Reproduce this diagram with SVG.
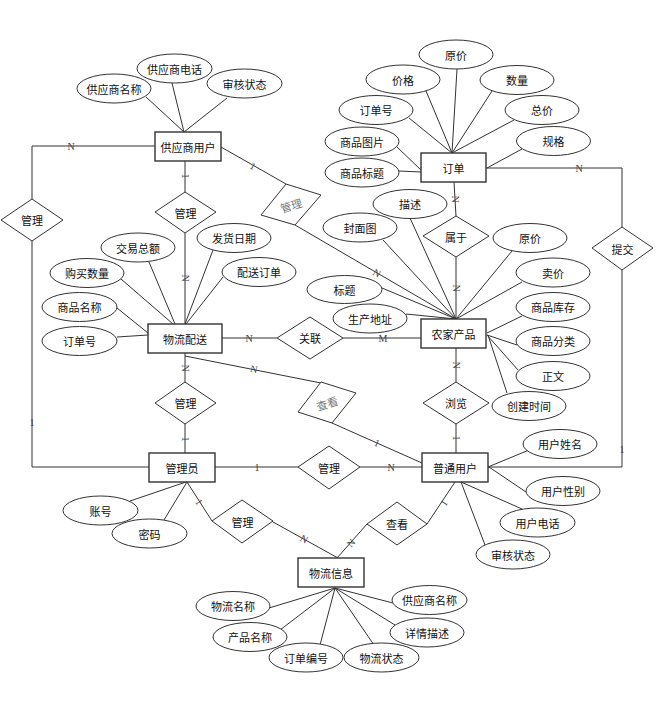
<svg xmlns="http://www.w3.org/2000/svg" width="666" height="701" viewBox="0 0 666 701">
<style>
  .ent rect { fill: #fff; stroke: #333; stroke-width: 1.4; }
  .att ellipse { fill: #fff; stroke: #333; stroke-width: 1; }
  .rel polygon { fill: #fff; stroke: #333; stroke-width: 1; }
  text { font-family: "Noto Sans CJK SC", "Noto Sans", sans-serif; font-size: 11px; fill: #111; text-anchor: middle; dominant-baseline: central; }
  .rot text { fill: #777; }
  #connectors line, #connectors polyline { stroke: #333; stroke-width: 1; fill: none; }
  .card { font-family: "Liberation Serif", serif; font-size: 10px; fill: #444; }
</style>
<rect width="666" height="701" fill="#fff"/>
<g id="connectors">
  <line x1="146" y1="97" x2="184" y2="132"/>
  <line x1="172" y1="83" x2="184" y2="132"/>
  <line x1="227" y1="98" x2="184" y2="132"/>
  <line x1="457" y1="69" x2="452" y2="153"/>
  <line x1="426" y1="91" x2="452" y2="153"/>
  <line x1="492" y1="91" x2="452" y2="153"/>
  <line x1="409" y1="118" x2="452" y2="153"/>
  <line x1="514" y1="120" x2="452" y2="153"/>
  <line x1="397" y1="147" x2="421" y2="170"/>
  <line x1="399" y1="171" x2="421" y2="172"/>
  <line x1="522" y1="149" x2="487" y2="168"/>
  <line x1="149" y1="262" x2="175" y2="324"/>
  <line x1="213" y1="250" x2="185" y2="324"/>
  <line x1="121" y1="279" x2="173" y2="324"/>
  <line x1="223" y1="277" x2="186" y2="324"/>
  <line x1="117" y1="308" x2="148" y2="333"/>
  <line x1="117" y1="337" x2="148" y2="335"/>
  <line x1="410" y1="218" x2="456" y2="319"/>
  <line x1="383" y1="240" x2="456" y2="319"/>
  <line x1="512" y1="251" x2="456" y2="319"/>
  <line x1="522" y1="282" x2="456" y2="319"/>
  <line x1="382" y1="288" x2="456" y2="319"/>
  <line x1="406" y1="314" x2="456" y2="319"/>
  <line x1="522" y1="316" x2="487" y2="333"/>
  <line x1="517" y1="345" x2="487" y2="335"/>
  <line x1="518" y1="370" x2="487" y2="335"/>
  <line x1="507" y1="393" x2="488" y2="335"/>
  <line x1="529" y1="450" x2="488" y2="467"/>
  <line x1="526" y1="492" x2="489" y2="467"/>
  <line x1="522" y1="509" x2="461" y2="482"/>
  <line x1="485" y1="545" x2="461" y2="482"/>
  <line x1="130" y1="501" x2="186" y2="482"/>
  <line x1="164" y1="520" x2="187" y2="482"/>
  <line x1="269" y1="608" x2="335" y2="588"/>
  <line x1="280" y1="630" x2="335" y2="588"/>
  <line x1="320" y1="645" x2="335" y2="588"/>
  <line x1="374" y1="645" x2="335" y2="588"/>
  <line x1="393" y1="603" x2="335" y2="588"/>
  <line x1="395" y1="625" x2="335" y2="588"/>
  <polyline points="155,146 32,146 32,199"/>
  <polyline points="32,241 32,467 149,467"/>
  <line x1="185" y1="161" x2="185" y2="192"/>
  <line x1="185" y1="233" x2="185" y2="324"/>
  <line x1="222" y1="338" x2="277" y2="338"/>
  <line x1="343" y1="338" x2="421" y2="338"/>
  <line x1="185" y1="353" x2="185" y2="382"/>
  <line x1="185" y1="424" x2="185" y2="453"/>
  <line x1="185" y1="356" x2="321" y2="383"/>
  <line x1="332" y1="423" x2="422" y2="463"/>
  <line x1="221" y1="147" x2="286" y2="184"/>
  <line x1="295" y1="225" x2="456" y2="319"/>
  <line x1="454" y1="182" x2="456" y2="216"/>
  <line x1="456" y1="257" x2="456" y2="319"/>
  <polyline points="486,168 622,168 622,227"/>
  <polyline points="622,270 622,467 488,467"/>
  <line x1="456" y1="348" x2="456" y2="382"/>
  <line x1="456" y1="424" x2="456" y2="453"/>
  <line x1="215" y1="467" x2="298" y2="467"/>
  <line x1="360" y1="467" x2="422" y2="467"/>
  <line x1="187" y1="482" x2="212" y2="521"/>
  <line x1="273" y1="522" x2="338" y2="558"/>
  <line x1="455" y1="482" x2="427" y2="524"/>
  <line x1="367" y1="524" x2="337" y2="558"/>
  <text class="card" x="71" y="146">N</text>
  <text class="card" x="32" y="422">1</text>
  <text class="card" transform="translate(185,176) rotate(90)">1</text>
  <text class="card" transform="translate(185,278) rotate(90)">N</text>
  <text class="card" x="249" y="338">N</text>
  <text class="card" x="383" y="338">M</text>
  <text class="card" transform="translate(185,368) rotate(90)">N</text>
  <text class="card" transform="translate(185,439) rotate(90)">1</text>
  <text class="card" transform="translate(254,369) rotate(11)">N</text>
  <text class="card" transform="translate(377,443) rotate(24)">1</text>
  <text class="card" transform="translate(253,166) rotate(30)">1</text>
  <text class="card" transform="translate(377,273) rotate(30)">N</text>
  <text class="card" transform="translate(455,199) rotate(90)">N</text>
  <text class="card" transform="translate(456,288) rotate(90)">N</text>
  <text class="card" x="579" y="168">N</text>
  <text class="card" x="622" y="449">1</text>
  <text class="card" transform="translate(456,365) rotate(90)">N</text>
  <text class="card" transform="translate(456,438) rotate(90)">1</text>
  <text class="card" x="257" y="467">1</text>
  <text class="card" x="391" y="467">N</text>
  <text class="card" transform="translate(199,502) rotate(57)">1</text>
  <text class="card" transform="translate(304,539) rotate(29)">N</text>
  <text class="card" transform="translate(444,503) rotate(-56)">1</text>
  <text class="card" transform="translate(351,543) rotate(-49)">N</text>
</g>
<g id="e-supplier" class="ent"><rect x="155" y="132" width="66" height="29"/><text x="188" y="146.5">供应商用户</text></g>
<g id="e-order" class="ent"><rect x="421" y="153" width="65" height="29"/><text x="453.5" y="167.5">订单</text></g>
<g id="e-delivery" class="ent"><rect x="148" y="324" width="74" height="29"/><text x="185" y="338.5">物流配送</text></g>
<g id="e-product" class="ent"><rect x="421" y="319" width="65" height="29"/><text x="453.5" y="333.5">农家产品</text></g>
<g id="e-admin" class="ent"><rect x="149" y="453" width="66" height="29"/><text x="182" y="467.5">管理员</text></g>
<g id="e-user" class="ent"><rect x="422" y="453" width="66" height="29"/><text x="455" y="467.5">普通用户</text></g>
<g id="e-logistics" class="ent"><rect x="298" y="558" width="66" height="29"/><text x="331" y="572.5">物流信息</text></g>

<g id="r-manage1" class="rel"><polygon points="1,220 32,199 63,220 32,241"/><text x="32" y="220">管理</text></g>
<g id="r-manage2" class="rel"><polygon points="155,212 185,192 216,212 185,233"/><text x="185.5" y="212.5">管理</text></g>
<g id="r-manage3" class="rel rot"><polygon points="286,184 321,195 295,225 261,215"/><text transform="translate(291,205) rotate(-17)">管理</text></g>
<g id="r-belong" class="rel"><polygon points="423,236 456,216 489,236 456,257"/><text x="456" y="236.5">属于</text></g>
<g id="r-submit" class="rel"><polygon points="592,248 622,227 653,248 622,270"/><text x="622.5" y="248.5">提交</text></g>
<g id="r-link" class="rel"><polygon points="277,338 310,317 343,338 310,359"/><text x="310" y="338">关联</text></g>
<g id="r-browse" class="rel"><polygon points="423,403 456,382 489,403 456,424"/><text x="456" y="403">浏览</text></g>
<g id="r-view1" class="rel rot"><polygon points="321,382 356,393 332,423 298,412"/><text transform="translate(327,403) rotate(-17)">查看</text></g>
<g id="r-manage4" class="rel"><polygon points="298,467 329,446 360,467 329,489"/><text x="329" y="467.5">管理</text></g>
<g id="r-manage5" class="rel"><polygon points="212,521 242,500 273,521 242,543"/><text x="242.5" y="521.5">管理</text></g>
<g id="r-view2" class="rel"><polygon points="367,524 397,502 427,524 397,545"/><text x="397" y="523.5">查看</text></g>
<g id="r-manage6" class="rel"><polygon points="155,403 185,382 216,403 185,424"/><text x="185.5" y="403">管理</text></g>

<g id="a-sup-name" class="att"><ellipse cx="114" cy="88.5" rx="37" ry="14.5"/><text x="114" y="88.5">供应商名称</text></g>
<g id="a-sup-tel" class="att"><ellipse cx="174.5" cy="68.5" rx="37.5" ry="14.5"/><text x="174.5" y="68.5">供应商电话</text></g>
<g id="a-sup-status" class="att"><ellipse cx="244.5" cy="83.5" rx="37.5" ry="14.5"/><text x="244.5" y="83.5">审核状态</text></g>

<g id="a-ord-oprice" class="att"><ellipse cx="456" cy="54.5" rx="37" ry="14.5"/><text x="456" y="54.5">原价</text></g>
<g id="a-ord-price" class="att"><ellipse cx="403" cy="79.5" rx="37" ry="14.5"/><text x="403" y="79.5">价格</text></g>
<g id="a-ord-qty" class="att"><ellipse cx="517" cy="80" rx="37" ry="14.5"/><text x="517" y="80">数量</text></g>
<g id="a-ord-no" class="att"><ellipse cx="376" cy="110" rx="37" ry="14.5"/><text x="376" y="110">订单号</text></g>
<g id="a-ord-total" class="att"><ellipse cx="542" cy="110" rx="37" ry="14.5"/><text x="542" y="110">总价</text></g>
<g id="a-ord-img" class="att"><ellipse cx="362" cy="141.5" rx="37" ry="14.5"/><text x="362" y="141.5">商品图片</text></g>
<g id="a-ord-title" class="att"><ellipse cx="362" cy="172.5" rx="37" ry="14.5"/><text x="362" y="172.5">商品标题</text></g>
<g id="a-ord-spec" class="att"><ellipse cx="553.5" cy="141" rx="37" ry="14.5"/><text x="553.5" y="141">规格</text></g>

<g id="a-del-total" class="att"><ellipse cx="138" cy="247.5" rx="37" ry="14.5"/><text x="138" y="247.5">交易总额</text></g>
<g id="a-del-date" class="att"><ellipse cx="234" cy="238" rx="37" ry="14.5"/><text x="234" y="238">发货日期</text></g>
<g id="a-del-qty" class="att"><ellipse cx="87" cy="273" rx="37" ry="14.5"/><text x="87" y="273">购买数量</text></g>
<g id="a-del-order" class="att"><ellipse cx="259" cy="272" rx="37" ry="14.5"/><text x="259" y="272">配送订单</text></g>
<g id="a-del-name" class="att"><ellipse cx="79.5" cy="307" rx="37.5" ry="14.5"/><text x="79.5" y="307">商品名称</text></g>
<g id="a-del-no" class="att"><ellipse cx="79.5" cy="341" rx="37.5" ry="14.5"/><text x="79.5" y="341">订单号</text></g>

<g id="a-pro-desc" class="att"><ellipse cx="410" cy="204" rx="37" ry="14.5"/><text x="410" y="204">描述</text></g>
<g id="a-pro-cover" class="att"><ellipse cx="360" cy="227.5" rx="37" ry="14.5"/><text x="360" y="227.5">封面图</text></g>
<g id="a-pro-oprice" class="att"><ellipse cx="530" cy="238" rx="37" ry="14.5"/><text x="530" y="238">原价</text></g>
<g id="a-pro-sprice" class="att"><ellipse cx="553" cy="272.5" rx="37" ry="14.5"/><text x="553" y="272.5">卖价</text></g>
<g id="a-pro-title" class="att"><ellipse cx="344.5" cy="289.5" rx="37.5" ry="14"/><text x="344.5" y="289.5">标题</text></g>
<g id="a-pro-addr" class="att"><ellipse cx="370" cy="318.5" rx="37" ry="14.5"/><text x="370" y="318.5">生产地址</text></g>
<g id="a-pro-stock" class="att"><ellipse cx="553" cy="307" rx="37" ry="14.5"/><text x="553" y="307">商品库存</text></g>
<g id="a-pro-cat" class="att"><ellipse cx="553" cy="341" rx="37" ry="14.5"/><text x="553" y="341">商品分类</text></g>
<g id="a-pro-body" class="att"><ellipse cx="553" cy="376" rx="37" ry="14.5"/><text x="553" y="376">正文</text></g>
<g id="a-pro-time" class="att"><ellipse cx="529" cy="406" rx="37" ry="14.5"/><text x="529" y="406">创建时间</text></g>

<g id="a-usr-name" class="att"><ellipse cx="560" cy="444" rx="37" ry="14.5"/><text x="560" y="444">用户姓名</text></g>
<g id="a-usr-sex" class="att"><ellipse cx="563" cy="491" rx="37" ry="14.5"/><text x="563" y="491">用户性别</text></g>
<g id="a-usr-tel" class="att"><ellipse cx="537.5" cy="522.5" rx="37.5" ry="14.5"/><text x="537.5" y="522.5">用户电话</text></g>
<g id="a-usr-status" class="att"><ellipse cx="513" cy="554.5" rx="37" ry="14.5"/><text x="513" y="554.5">审核状态</text></g>

<g id="a-adm-acc" class="att"><ellipse cx="100.5" cy="510.5" rx="37.5" ry="14.5"/><text x="100.5" y="510.5">账号</text></g>
<g id="a-adm-pwd" class="att"><ellipse cx="149.5" cy="533.5" rx="37.5" ry="14.5"/><text x="149.5" y="533.5">密码</text></g>

<g id="a-log-name" class="att"><ellipse cx="233" cy="606" rx="37" ry="14.5"/><text x="233" y="606">物流名称</text></g>
<g id="a-log-prod" class="att"><ellipse cx="250" cy="637" rx="37" ry="14.5"/><text x="250" y="637">产品名称</text></g>
<g id="a-log-no" class="att"><ellipse cx="306" cy="657.5" rx="37" ry="14.5"/><text x="306" y="657.5">订单编号</text></g>
<g id="a-log-status" class="att"><ellipse cx="381.5" cy="657.5" rx="37.5" ry="14.5"/><text x="381.5" y="657.5">物流状态</text></g>
<g id="a-log-sup" class="att"><ellipse cx="429.5" cy="600" rx="37.5" ry="14.5"/><text x="429.5" y="600">供应商名称</text></g>
<g id="a-log-desc" class="att"><ellipse cx="427" cy="632.5" rx="37" ry="14.5"/><text x="427" y="632.5">详情描述</text></g>
</svg>
